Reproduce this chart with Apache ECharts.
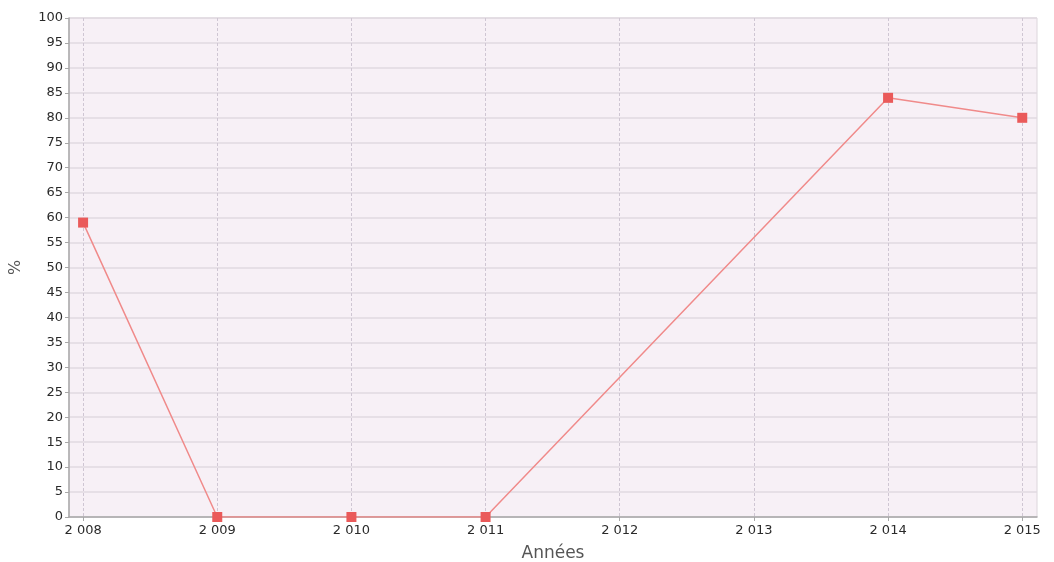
<!DOCTYPE html>
<html>
<head>
<meta charset="utf-8">
<script src="https://cdn.jsdelivr.net/npm/echarts@6/dist/echarts.min.js"></script>
<style>
html,body{margin:0;padding:0;background:#fff;}
#c{width:1054px;height:562px;}
</style>
</head>
<body>
<div id="c"></div>
<script>
var years = [2008, 2009, 2010, 2011, 2012, 2013, 2014, 2015];
var yearLabels = ['2 008', '2 009', '2 010', '2 011', '2 012', '2 013', '2 014', '2 015'];
var pointYears = [2008, 2009, 2010, 2011, 2014, 2015];
var pointValues = [59, 0, 0, 0, 84, 80];

var chart = echarts.init(document.getElementById('c'));
chart.setOption({
  animation: false,
  backgroundColor: '#ffffff',
  grid: {
    left: 69, right: 17, top: 18, bottom: 45,
    outerBoundsMode: 'none', containLabel: false,
    show: true, backgroundColor: '#f7f0f6', borderColor: '#dcd6dc', borderWidth: 1
  },
  xAxis: {
    type: 'value',
    min: 2007.895, max: 2015.11,
    name: 'Années', nameLocation: 'middle', nameGap: 28,
    nameTextStyle: { fontFamily: 'DejaVu Sans', fontSize: 17, color: '#555' },
    axisLine: { show: true, lineStyle: { color: '#a8a8a8', width: 1.5 } },
    axisTick: { show: true, customValues: years, length: 4, lineStyle: { color: '#a8a8a8' } },
    axisLabel: {
      customValues: years, color: '#2a2a2a', fontFamily: 'DejaVu Sans', fontSize: 13, margin: 7,
      formatter: function (v) { var i = years.indexOf(Math.round(v)); return i >= 0 ? yearLabels[i] : ''; }
    },
    splitLine: { show: true, lineStyle: { color: '#cfc6d3', type: [3, 2], width: 1 } }
  },
  yAxis: {
    type: 'value', min: 0, max: 100, interval: 5,
    name: '%', nameLocation: 'middle', nameGap: 45, nameRotate: 90,
    nameTextStyle: { fontFamily: 'DejaVu Sans', fontSize: 16, color: '#555' },
    axisLine: { show: true, lineStyle: { color: '#a8a8a8', width: 1.5 } },
    axisTick: { show: true, length: 4, lineStyle: { color: '#a8a8a8' } },
    axisLabel: { color: '#2a2a2a', fontFamily: 'DejaVu Sans', fontSize: 13, margin: 6 },
    splitLine: { show: true, lineStyle: { color: '#e0dae0', width: 1.5 } }
  },
  series: [{
    type: 'line',
    data: pointYears.map(function (y, i) { return [y, pointValues[i]]; }),
    symbol: 'rect', symbolSize: 10,
    itemStyle: { color: '#ea5a5a' },
    lineStyle: { color: '#f08a8a', width: 1.5 }
  }]
});
</script>
</body>
</html>
